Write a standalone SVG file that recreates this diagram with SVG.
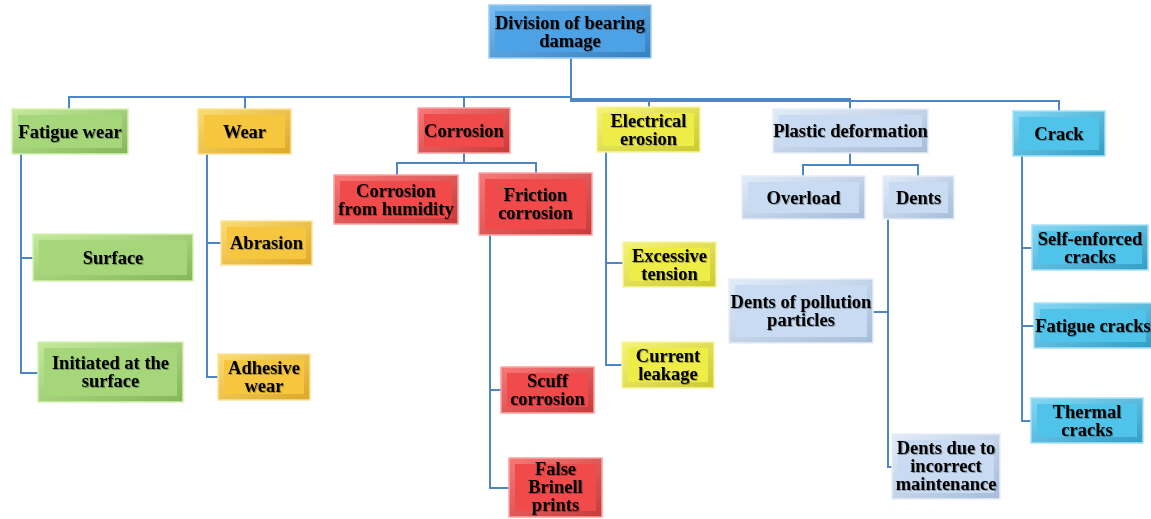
<svg xmlns="http://www.w3.org/2000/svg" width="1151" height="519" viewBox="0 0 1151 519">
<style>
text{font-family:"Liberation Serif","Times New Roman",Times,"DejaVu Serif",serif;font-weight:bold;font-size:18.5px;fill:#000;text-anchor:middle;filter:url(#ts)}
.c path{fill:none;stroke:#4f86c6;stroke-width:2}
.o{stroke-width:1.5}
.blue .o{fill:url(#gBlue);stroke:#9cccf4}.blue .i{fill:#4ca2e4}
.green .o{fill:url(#gGreen);stroke:#d6f2b4}.green .i{fill:#a5d67a}
.orange .o{fill:url(#gOrange);stroke:#fbe39a}.orange .i{fill:#f6c63e}
.red .o{fill:url(#gRed);stroke:#f8a4a4}.red .i{fill:#f04a4a}
.yellow .o{fill:url(#gYellow);stroke:#f8f6a0}.yellow .i{fill:#eeec46}
.pale .o{fill:url(#gPale);stroke:#e6eefa}.pale .i{fill:#c8dbf2}
.cyan .o{fill:url(#gCyan);stroke:#a6e2f6}.cyan .i{fill:#4fc3ea}
</style>
<defs>
<filter id="ts" x="-10%" y="-20%" width="120%" height="140%"><feDropShadow dx="1" dy="1" stdDeviation="0.6" flood-color="#000" flood-opacity="0.3"/></filter>
<linearGradient id="gBlue" x1="0" y1="0" x2="1" y2="1"><stop offset="0" stop-color="#7cc0f2"/><stop offset="1" stop-color="#3580c0"/></linearGradient>
<linearGradient id="gGreen" x1="0" y1="0" x2="1" y2="1"><stop offset="0" stop-color="#c4ea9c"/><stop offset="1" stop-color="#84b658"/></linearGradient>
<linearGradient id="gOrange" x1="0" y1="0" x2="1" y2="1"><stop offset="0" stop-color="#fbdc74"/><stop offset="1" stop-color="#dca828"/></linearGradient>
<linearGradient id="gRed" x1="0" y1="0" x2="1" y2="1"><stop offset="0" stop-color="#f87878"/><stop offset="1" stop-color="#c83a3a"/></linearGradient>
<linearGradient id="gYellow" x1="0" y1="0" x2="1" y2="1"><stop offset="0" stop-color="#f6f47a"/><stop offset="1" stop-color="#cccA30"/></linearGradient>
<linearGradient id="gPale" x1="0" y1="0" x2="1" y2="1"><stop offset="0" stop-color="#e2ecf8"/><stop offset="1" stop-color="#a6bcd8"/></linearGradient>
<linearGradient id="gCyan" x1="0" y1="0" x2="1" y2="1"><stop offset="0" stop-color="#86d8f4"/><stop offset="1" stop-color="#329ec6"/></linearGradient>
</defs>
<rect width="1151" height="519" fill="#fff"/>

<g class="c" id="connectors">
<path d="M571 58 V97 H69 V109"/>
<path d="M571 97 H245 V109"/>
<path d="M571 97 H464 V108"/>
<path d="M571 97 V99 H649 V107"/>
<path d="M649 99 H850 V109"/>
<path d="M571 99 V101 H1059 V111"/>
<path d="M21 154 V373 H38"/>
<path d="M21 258 H33"/>
<path d="M207 154 V377 H218"/>
<path d="M207 243 H221"/>
<path d="M464 153 V163 H397 V175"/>
<path d="M464 163 H536 V173"/>
<path d="M490 235 V488 H509"/>
<path d="M490 390 H501"/>
<path d="M606 152 V365 H622"/>
<path d="M606 263 H623"/>
<path d="M850 153 V165 H803 V176"/>
<path d="M850 165 H918 V176"/>
<path d="M888 219 V467 H892"/>
<path d="M888 312 H873"/>
<path d="M1022 156 V421 H1031"/>
<path d="M1022 248 H1032"/>
<path d="M1022 326 H1034"/>
</g>

<g id="root" class="blue"><rect class="o" x="489" y="5" width="162" height="53"/><rect class="i" x="495" y="11" width="150" height="41"/><text x="570" y="28.5">Division of bearing</text><text x="570" y="46.5">damage</text></g>

<g id="fatigue-wear" class="green"><rect class="o" x="12" y="109" width="116" height="45"/><rect class="i" x="18" y="115" width="104" height="33"/><text x="70" y="137.5">Fatigue wear</text></g>
<g id="surface" class="green"><rect class="o" x="33" y="234" width="160" height="47"/><rect class="i" x="39" y="240" width="148" height="35"/><text x="113" y="263.5">Surface</text></g>
<g id="initiated" class="green"><rect class="o" x="38" y="342" width="145" height="60"/><rect class="i" x="44" y="348" width="133" height="48"/><text x="110.5" y="369">Initiated at the</text><text x="110.5" y="387">surface</text></g>

<g id="wear" class="orange"><rect class="o" x="198" y="109" width="93" height="45"/><rect class="i" x="204" y="115" width="81" height="33"/><text x="244.5" y="137.5">Wear</text></g>
<g id="abrasion" class="orange"><rect class="o" x="221" y="221" width="91" height="44"/><rect class="i" x="227" y="227" width="79" height="32"/><text x="266.5" y="249">Abrasion</text></g>
<g id="adhesive" class="orange"><rect class="o" x="218" y="354" width="92" height="46"/><rect class="i" x="224" y="360" width="80" height="34"/><text x="264" y="374">Adhesive</text><text x="264" y="392">wear</text></g>

<g id="corrosion" class="red"><rect class="o" x="418" y="108" width="92" height="45"/><rect class="i" x="424" y="114" width="80" height="33"/><text x="464" y="136.5">Corrosion</text></g>
<g id="humidity" class="red"><rect class="o" x="334" y="175" width="124" height="49"/><rect class="i" x="340" y="181" width="112" height="37"/><text x="396" y="196.5">Corrosion</text><text x="396" y="214.5">from humidity</text></g>
<g id="friction" class="red"><rect class="o" x="479" y="173" width="113" height="62"/><rect class="i" x="485" y="179" width="101" height="50"/><text x="535.5" y="201">Friction</text><text x="535.5" y="219">corrosion</text></g>
<g id="scuff" class="red"><rect class="o" x="501" y="367" width="93" height="46"/><rect class="i" x="507" y="373" width="81" height="34"/><text x="547.5" y="387">Scuff</text><text x="547.5" y="405">corrosion</text></g>
<g id="brinell" class="red"><rect class="o" x="509" y="458" width="93" height="59"/><rect class="i" x="515" y="464" width="81" height="47"/><text x="555.5" y="475">False</text><text x="555.5" y="493">Brinell</text><text x="555.5" y="511">prints</text></g>

<g id="electrical" class="yellow"><rect class="o" x="597" y="107" width="103" height="45"/><rect class="i" x="603" y="113" width="91" height="33"/><text x="648.5" y="126.5">Electrical</text><text x="648.5" y="144.5">erosion</text></g>
<g id="excessive" class="yellow"><rect class="o" x="623" y="242" width="93" height="45"/><rect class="i" x="629" y="248" width="81" height="33"/><text x="669.5" y="261.5">Excessive</text><text x="669.5" y="279.5">tension</text></g>
<g id="leakage" class="yellow"><rect class="o" x="622" y="342" width="92" height="46"/><rect class="i" x="628" y="348" width="80" height="34"/><text x="668" y="362">Current</text><text x="668" y="380">leakage</text></g>

<g id="plastic" class="pale"><rect class="o" x="773" y="109" width="155" height="44"/><rect class="i" x="779" y="115" width="143" height="32"/><text x="850.5" y="137">Plastic deformation</text></g>
<g id="overload" class="pale"><rect class="o" x="742" y="176" width="123" height="43"/><rect class="i" x="748" y="182" width="111" height="31"/><text x="803.5" y="203.5">Overload</text></g>
<g id="dents" class="pale"><rect class="o" x="883" y="176" width="71" height="43"/><rect class="i" x="889" y="182" width="59" height="31"/><text x="918.5" y="203.5">Dents</text></g>
<g id="pollution" class="pale"><rect class="o" x="729" y="279" width="144" height="64"/><rect class="i" x="735" y="285" width="132" height="52"/><text x="801" y="308">Dents of pollution</text><text x="801" y="326">particles</text></g>
<g id="maintenance" class="pale"><rect class="o" x="892" y="434" width="108" height="65"/><rect class="i" x="898" y="440" width="96" height="53"/><text x="946" y="454">Dents due to</text><text x="946" y="472">incorrect</text><text x="946" y="490">maintenance</text></g>

<g id="crack" class="cyan"><rect class="o" x="1013" y="111" width="92" height="45"/><rect class="i" x="1019" y="117" width="80" height="33"/><text x="1059" y="139.5">Crack</text></g>
<g id="self-enforced" class="cyan"><rect class="o" x="1032" y="225" width="116" height="45"/><rect class="i" x="1038" y="231" width="104" height="33"/><text x="1090" y="244.5">Self-enforced</text><text x="1090" y="262.5">cracks</text></g>
<g id="fatigue-cracks" class="cyan"><rect class="o" x="1034" y="303" width="118" height="45"/><rect class="i" x="1040" y="309" width="106" height="33"/><text x="1093" y="331.5">Fatigue cracks</text></g>
<g id="thermal" class="cyan"><rect class="o" x="1031" y="398" width="112" height="45"/><rect class="i" x="1037" y="404" width="100" height="33"/><text x="1087" y="417.5">Thermal</text><text x="1087" y="435.5">cracks</text></g>
</svg>
